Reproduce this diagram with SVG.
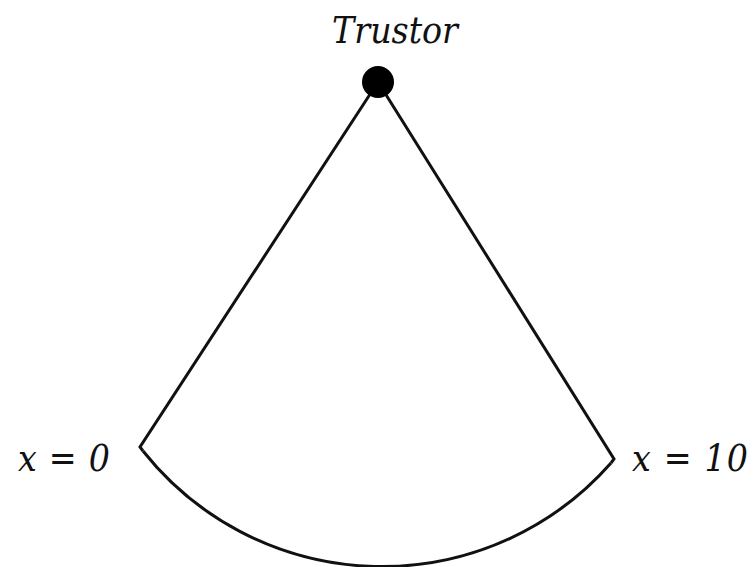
<svg xmlns="http://www.w3.org/2000/svg" width="753" height="567" viewBox="0 0 753 567">
<style>
.lbl{font-family:"DejaVu Serif",serif;font-style:italic;font-stretch:condensed;font-size:37px;fill:#111}
.ln{fill:none;stroke:#111;stroke-width:3;stroke-linejoin:miter}
</style>
<rect width="753" height="567" fill="#fff"/>
<g id="connectors">
<path class="ln" d="M378,82 L140,447 L143,451"/>
<path class="ln" d="M378,82 L614,459 L611,463"/>
<path class="ln" d="M143,451 A305,305 0 0 0 611,463"/>
</g>
<g id="trustor">
<circle cx="378" cy="82" r="16" fill="#000"/>
<text class="lbl" x="395" y="43" text-anchor="middle">Trustor</text>
</g>
<g id="x0">
<text class="lbl" x="18" y="471" textLength="92">x = 0</text>
</g>
<g id="x10">
<text class="lbl" x="632" y="471" textLength="116">x = 10</text>
</g>
</svg>
